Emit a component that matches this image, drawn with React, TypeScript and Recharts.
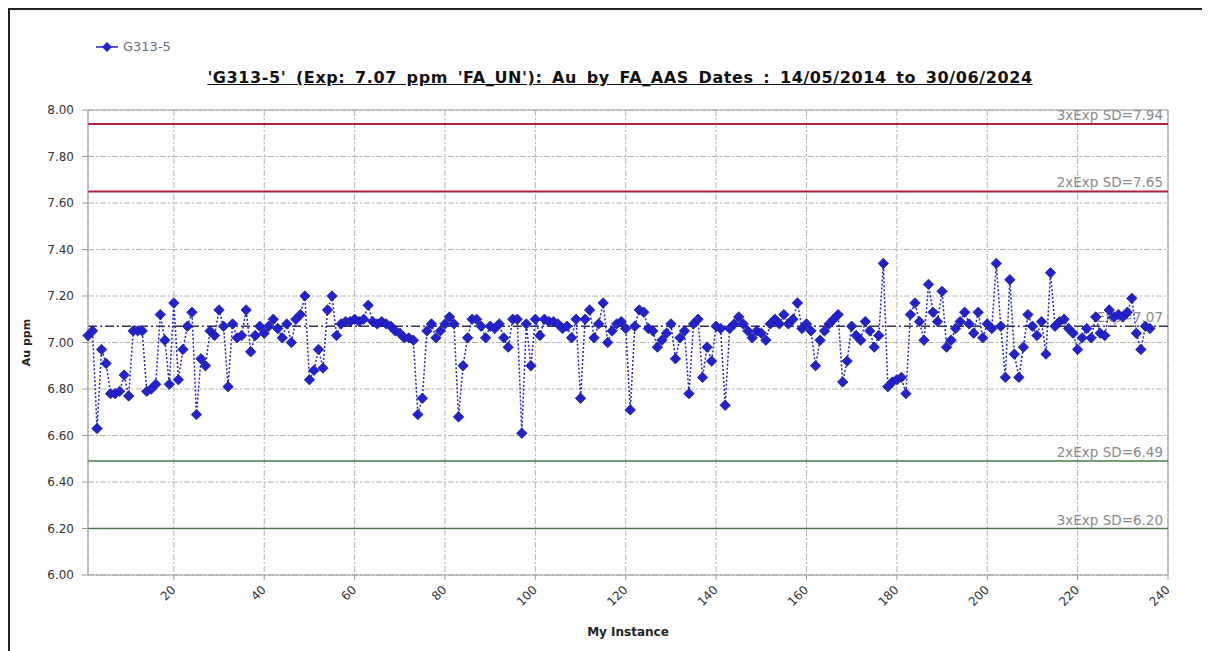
import React from 'react';
import { LineChart, Line, XAxis, YAxis, CartesianGrid, ReferenceLine } from 'recharts';

// Au assay results (ppm) for standard G313-5, one value per instance
const auValues: number[] = [
  7.03, 7.05, 6.63, 6.97, 6.91, 6.78, 6.78, 6.79, 6.86, 6.77, 7.05, 7.05, 7.05, 6.79, 6.80, 6.82, 7.12, 7.01, 6.82, 7.17,
  6.84, 6.97, 7.07, 7.13, 6.69, 6.93, 6.90, 7.05, 7.03, 7.14, 7.07, 6.81, 7.08, 7.02, 7.03, 7.14, 6.96, 7.03, 7.07, 7.04,
  7.07, 7.10, 7.06, 7.02, 7.08, 7.00, 7.10, 7.12, 7.20, 6.84, 6.88, 6.97, 6.89, 7.14, 7.20, 7.03, 7.08, 7.09, 7.09, 7.10,
  7.09, 7.10, 7.16, 7.09, 7.08, 7.09, 7.08, 7.07, 7.05, 7.04, 7.02, 7.02, 7.01, 6.69, 6.76, 7.05, 7.08, 7.02, 7.05, 7.08,
  7.11, 7.08, 6.68, 6.90, 7.02, 7.10, 7.10, 7.07, 7.02, 7.07, 7.06, 7.08, 7.02, 6.98, 7.10, 7.10, 6.61, 7.08, 6.90, 7.10,
  7.03, 7.10, 7.09, 7.09, 7.08, 7.06, 7.07, 7.02, 7.10, 6.76, 7.10, 7.14, 7.02, 7.08, 7.17, 7.00, 7.05, 7.08, 7.09, 7.06,
  6.71, 7.07, 7.14, 7.13, 7.06, 7.05, 6.98, 7.01, 7.04, 7.08, 6.93, 7.02, 7.05, 6.78, 7.08, 7.10, 6.85, 6.98, 6.92, 7.07,
  7.06, 6.73, 7.06, 7.08, 7.11, 7.08, 7.05, 7.02, 7.05, 7.04, 7.01, 7.08, 7.10, 7.08, 7.12, 7.08, 7.10, 7.17, 7.06, 7.08,
  7.05, 6.90, 7.01, 7.05, 7.08, 7.10, 7.12, 6.83, 6.92, 7.07, 7.03, 7.01, 7.09, 7.05, 6.98, 7.03, 7.34, 6.81, 6.83, 6.84,
  6.85, 6.78, 7.12, 7.17, 7.09, 7.01, 7.25, 7.13, 7.09, 7.22, 6.98, 7.01, 7.06, 7.09, 7.13, 7.08, 7.04, 7.13, 7.02, 7.08,
  7.06, 7.34, 7.07, 6.85, 7.27, 6.95, 6.85, 6.98, 7.12, 7.07, 7.03, 7.09, 6.95, 7.30, 7.07, 7.09, 7.10, 7.06, 7.04, 6.97,
  7.02, 7.06, 7.02, 7.11, 7.04, 7.03, 7.14, 7.11, 7.12, 7.11, 7.13, 7.19, 7.04, 6.97, 7.07, 7.06,
];

// Instance numbers (1-based)
const instances: number[] = auValues.map((_, i) => i + 1);

const xTicks: number[] = [20, 40, 60, 80, 100, 120, 140, 160, 180, 200, 220, 240];
const yTicks: number[] = [6.0, 6.2, 6.4, 6.6, 6.8, 7.0, 7.2, 7.4, 7.6, 7.8, 8.0];

// Control limits
const expected = 7.07;
const upper3 = 7.94;
const upper2 = 7.65;
const lower2 = 6.49;
const lower3 = 6.2;

const seriesName = 'G313-5';
const chartTitle = "'G313-5' (Exp: 7.07 ppm 'FA_UN'): Au by FA_AAS Dates : 14/05/2014 to 30/06/2024";

const data = instances.map((x, i) => ({ x, au: auValues[i] }));

const FONT = '"DejaVu Sans", Verdana, sans-serif';
const BLUE = '#2222cc';

const Diamond = (props: any) => {
  const { cx, cy, index } = props;
  if (cx == null || cy == null) return null;
  const r = 5.2;
  return (
    <path
      key={`d-${index}`}
      d={`M${cx},${cy - r}L${cx + r},${cy}L${cx},${cy + r}L${cx - r},${cy}Z`}
      fill={BLUE}
      stroke="#1a1a99"
      strokeWidth={0.8}
    />
  );
};

const XTick = (props: any) => {
  const { x, y, payload } = props;
  return (
    <text
      x={x}
      y={y}
      dy="0.3em"
      transform={`rotate(-45 ${x} ${y})`}
      textAnchor="end"
      fontSize={12}
      fontFamily={FONT}
      fill="#333"
    >
      {payload.value}
    </text>
  );
};

const limitLabel = (text: string) => (props: any) => {
  const { viewBox } = props;
  if (!viewBox) return null;
  const { x, y, width } = viewBox;
  return (
    <text
      x={x + width - 5}
      y={y - 4}
      textAnchor="end"
      fontSize={13.5}
      fontFamily={FONT}
      fill="#8a8a8a"
    >
      {text}
    </text>
  );
};

const XTitle = (props: any) => {
  const { viewBox } = props;
  if (!viewBox) return null;
  const { x, width } = viewBox;
  return (
    <text x={x + width / 2} y={626} textAnchor="middle" fontSize={12} fontWeight="bold" fontFamily={FONT} fill="#222">
      My Instance
    </text>
  );
};

const YTitle = (props: any) => {
  const { viewBox } = props;
  if (!viewBox) return null;
  const { y, height } = viewBox;
  const cx = 20;
  const cy = y + height / 2;
  return (
    <text
      x={cx}
      y={cy}
      transform={`rotate(-90 ${cx} ${cy})`}
      textAnchor="middle"
      fontSize={11}
      fontWeight="bold"
      fontFamily={FONT}
      fill="#222"
    >
      Au ppm
    </text>
  );
};

export default function App() {
  return (
    <div
      style={{
        position: 'relative',
        width: 1192,
        height: 641,
        overflow: 'hidden',
        borderLeft: '2px solid #222',
        borderTop: '2px solid #222',
        borderBottom: '1px solid #ccc',
        background: '#fff',
      }}
    >
      {/* legend */}
      <div style={{ position: 'absolute', left: 84, top: 29, display: 'flex', alignItems: 'center' }}>
        <svg width={26} height={14}>
          <line x1={2} y1={7} x2={24} y2={7} stroke={BLUE} strokeWidth={1.5} />
          <path d="M13,2L18,7L13,12L8,7Z" fill={BLUE} />
        </svg>
        <span style={{ fontFamily: FONT, fontSize: 13, color: '#6a6a8a', marginLeft: 3 }}>{seriesName}</span>
      </div>
      {/* title */}
      <div
        style={{
          position: 'absolute',
          left: 0,
          width: 1220,
          top: 58,
          textAlign: 'center',
          fontFamily: FONT,
          fontWeight: 'bold',
          fontSize: 16,
          letterSpacing: 0.6,
          wordSpacing: 3.5,
          color: '#111',
          textDecoration: 'underline',
          whiteSpace: 'nowrap',
        }}
      >
        {chartTitle}
      </div>
      <LineChart
        width={1200}
        height={641}
        data={data}
        margin={{ top: 100, right: 42, bottom: 10, left: 18 }}
      >
        <CartesianGrid stroke="#b4b4b4" strokeDasharray="6 2 2 2" />
        <XAxis
          dataKey="x"
          type="number"
          domain={[1, 240]}
          ticks={xTicks}
          interval={0}
          height={66}
          tickSize={5}
          tickMargin={8}
          stroke="#999"
          tick={<XTick />}
          label={<XTitle />}
        />
        <YAxis
          type="number"
          domain={[6, 8]}
          ticks={yTicks}
          interval={0}
          width={60}
          tickSize={6}
          tickMargin={8}
          stroke="#999"
          tickFormatter={(v: number) => v.toFixed(2)}
          tick={{ fontSize: 12, fontFamily: FONT, fill: '#333' }}
          label={<YTitle />}
        />
        <ReferenceLine y={8} stroke="#9aa99a" strokeWidth={1} />
        <ReferenceLine x={240} stroke="#999" strokeWidth={1} />
        <ReferenceLine y={upper3} stroke="#b0203c" strokeWidth={2} label={limitLabel('3xExp SD=7.94')} />
        <ReferenceLine y={upper2} stroke="#b0203c" strokeWidth={2} label={limitLabel('2xExp SD=7.65')} />
        <ReferenceLine y={lower2} stroke="#4a7a4a" strokeWidth={1.5} label={limitLabel('2xExp SD=6.49')} />
        <ReferenceLine y={lower3} stroke="#4a7a4a" strokeWidth={1.5} label={limitLabel('3xExp SD=6.20')} />
        <ReferenceLine
          y={expected}
          stroke="#333355"
          strokeWidth={1.5}
          strokeDasharray="9 3 2 3"
          label={limitLabel('Exp=7.07')}
        />
        <Line
          type="linear"
          dataKey="au"
          name={seriesName}
          stroke={BLUE}
          strokeWidth={1.5}
          strokeDasharray="2 2"
          dot={<Diamond />}
          activeDot={false}
          isAnimationActive={false}
        />
      </LineChart>
    </div>
  );
}
